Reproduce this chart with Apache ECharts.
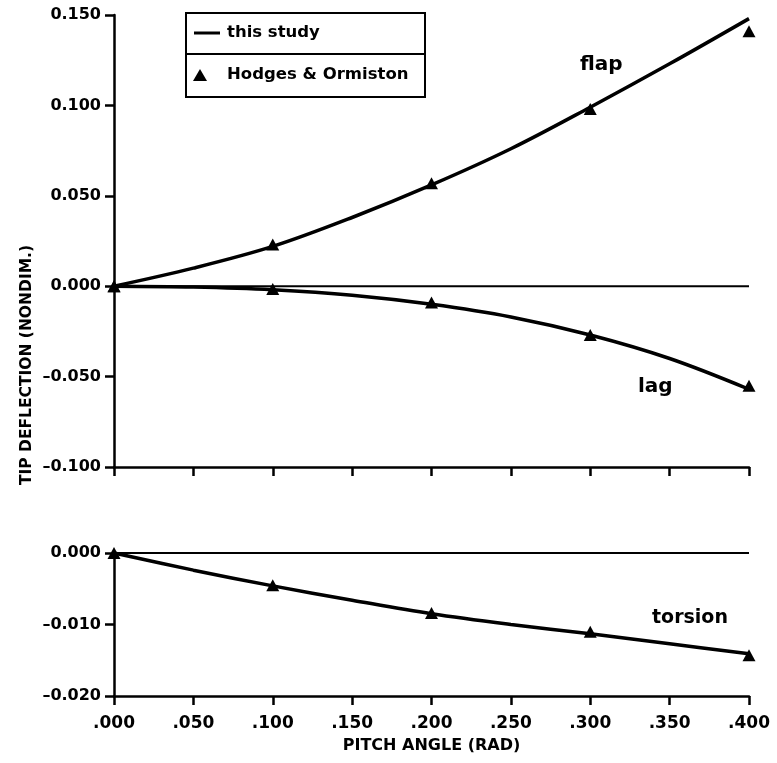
<!DOCTYPE html>
<html>
<head>
<meta charset="utf-8">
<script src="https://cdn.jsdelivr.net/npm/echarts@6/dist/echarts.min.js"></script>
<style>
  html, body { margin: 0; padding: 0; background: #fff; }
  #main { width: 777px; height: 763px; }
</style>
</head>
<body>
<div id="main"></div>
<script>
// pitch angle (rad)
var pitch = [0, 0.05, 0.10, 0.15, 0.20, 0.25, 0.30, 0.35, 0.40];
// this study (curves)
var flapLine    = [0, 0.010, 0.022, 0.038, 0.056, 0.076, 0.099, 0.123, 0.148];
var lagLine     = [0, -0.0005, -0.002, -0.005, -0.010, -0.017, -0.027, -0.040, -0.057];
var torsionLine = [0, -0.0024, -0.0046, -0.0066, -0.0085, -0.0100, -0.0113, -0.0127, -0.0141];
// Hodges & Ormiston (triangles)
var hoPitch   = [0, 0.10, 0.20, 0.30, 0.40];
var flapHO    = [0, 0.023, 0.057, 0.098, 0.141];
var lagHO     = [0, -0.0015, -0.009, -0.027, -0.055];
var torsionHO = [0, -0.0045, -0.0084, -0.0110, -0.0143];

function pairs(xs, ys) {
  return xs.map(function (x, i) { return [x, ys[i]]; });
}

var FONT = 'DejaVu Sans';
var chart = echarts.init(document.getElementById('main'));

var axisLine = { onZero: false, lineStyle: { color: '#000', width: 2.5 } };
var axisTick = { inside: false, length: 9, lineStyle: { color: '#000', width: 2.5 } };
var yLabel = {
  color: '#000', fontFamily: FONT, fontWeight: 'bold', fontSize: 16, margin: 13,
  formatter: function (v) { return (v < 0 ? '–' : '') + Math.abs(v).toFixed(3); }
};

function curve(name, xi, yi, data) {
  return {
    name: name, type: 'line', xAxisIndex: xi, yAxisIndex: yi,
    data: data, smooth: 0.35, showSymbol: false, silent: true,
    lineStyle: { color: '#000', width: 3.5 }, z: 3
  };
}
function marks(name, xi, yi, data) {
  return {
    name: name, type: 'scatter', xAxisIndex: xi, yAxisIndex: yi,
    data: data, symbol: 'triangle', symbolSize: [13, 12], silent: true,
    itemStyle: { color: '#000', opacity: 1 }, z: 4
  };
}
function zero(xi, yi) {
  return {
    type: 'line', xAxisIndex: xi, yAxisIndex: yi, data: [[0, 0], [0.4, 0]],
    showSymbol: false, silent: true, lineStyle: { color: '#000', width: 2 }, z: 2
  };
}

chart.setOption({
  animation: false,
  backgroundColor: '#fff',
  grid: [
    { left: 114, top: 15, width: 635, height: 452 },
    { left: 114, top: 553, width: 635, height: 143 }
  ],
  xAxis: [
    { type: 'value', gridIndex: 0, min: 0, max: 0.4, interval: 0.05,
      axisLine: axisLine, axisTick: axisTick, axisLabel: { show: false }, splitLine: { show: false } },
    { type: 'value', gridIndex: 1, min: 0, max: 0.4, interval: 0.05,
      axisLine: axisLine, axisTick: axisTick, splitLine: { show: false },
      axisLabel: { color: '#000', fontFamily: FONT, fontWeight: 'bold', fontSize: 17, margin: 19,
        formatter: function (v) { return v.toFixed(3).replace(/^0/, ''); } },
      name: 'PITCH ANGLE (RAD)', nameLocation: 'middle', nameGap: 42,
      nameTextStyle: { color: '#000', fontFamily: FONT, fontWeight: 'bold', fontSize: 16 } }
  ],
  yAxis: [
    { type: 'value', gridIndex: 0, min: -0.1, max: 0.15, interval: 0.05,
      axisLine: axisLine, axisTick: axisTick, axisLabel: yLabel, splitLine: { show: false } },
    { type: 'value', gridIndex: 1, min: -0.02, max: 0, interval: 0.01,
      axisLine: axisLine, axisTick: axisTick, axisLabel: yLabel, splitLine: { show: false } }
  ],
  series: [
    zero(0, 0), zero(1, 1),
    curve('flap', 0, 0, pairs(pitch, flapLine)),
    curve('lag', 0, 0, pairs(pitch, lagLine)),
    curve('torsion', 1, 1, pairs(pitch, torsionLine)),
    marks('flap HO', 0, 0, pairs(hoPitch, flapHO)),
    marks('lag HO', 0, 0, pairs(hoPitch, lagHO)),
    marks('torsion HO', 1, 1, pairs(hoPitch, torsionHO))
  ],
  graphic: [
    // legend box
    { type: 'rect', shape: { x: 186, y: 13, width: 239, height: 84 },
      style: { fill: '#fff', stroke: '#000', lineWidth: 2 }, z: 10 },
    { type: 'line', shape: { x1: 186, y1: 54, x2: 425, y2: 54 },
      style: { stroke: '#000', lineWidth: 2 }, z: 11 },
    { type: 'line', shape: { x1: 194, y1: 33, x2: 220, y2: 33 },
      style: { stroke: '#000', lineWidth: 3 }, z: 11 },
    { type: 'text', x: 227, y: 33, z: 11,
      style: { text: 'this study', fill: '#000', font: 'bold 16.5px "DejaVu Sans"', verticalAlign: 'middle' } },
    { type: 'polygon', shape: { points: [[200, 69], [193, 81], [207, 81]] },
      style: { fill: '#000' }, z: 11 },
    { type: 'text', x: 227, y: 75, z: 11,
      style: { text: 'Hodges & Ormiston', fill: '#000', font: 'bold 16.5px "DejaVu Sans"', verticalAlign: 'middle' } },
    // curve labels
    { type: 'text', x: 580, y: 65, style: { text: 'flap', fill: '#000', font: 'bold 20px "DejaVu Sans"', verticalAlign: 'middle' } },
    { type: 'text', x: 638, y: 387, style: { text: 'lag', fill: '#000', font: 'bold 20px "DejaVu Sans"', verticalAlign: 'middle' } },
    { type: 'text', x: 652, y: 618, style: { text: 'torsion', fill: '#000', font: 'bold 19px "DejaVu Sans"', verticalAlign: 'middle' } },
    // y title
    { type: 'text', x: 27, y: 365, rotation: Math.PI / 2,
      style: { text: 'TIP DEFLECTION (NONDIM.)', fill: '#000', font: 'bold 15.5px "DejaVu Sans"',
        align: 'center', verticalAlign: 'middle' } }
  ]
});
</script>
</body>
</html>
